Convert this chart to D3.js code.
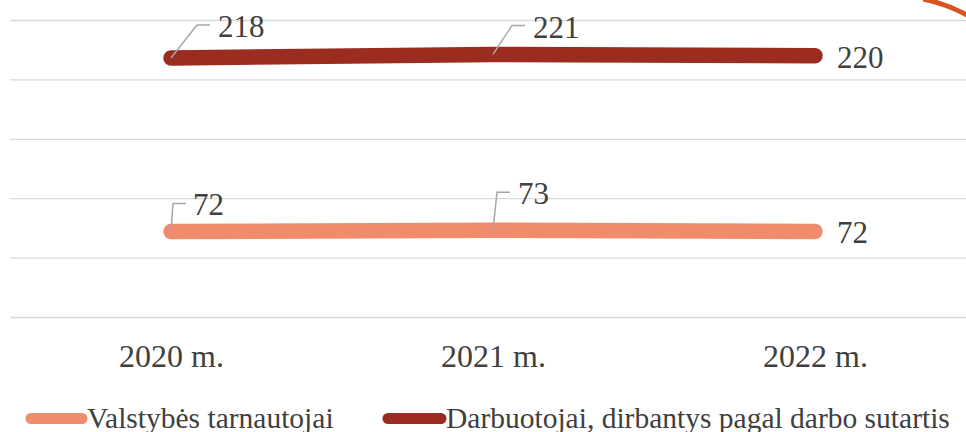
<!DOCTYPE html>
<html>
<head>
<meta charset="utf-8">
<script src="https://cdn.jsdelivr.net/npm/d3@7"></script>
<style>
  html, body { margin: 0; padding: 0; background: #fff; }
  svg { display: block; font-family: "Liberation Serif", "Times New Roman", serif; }
</style>
</head>
<body>
<div id="chart"></div>
<script>
// chart data
const years = ['2020 m.', '2021 m.', '2022 m.'];
const seriesNames = ['Valstybės tarnautojai', 'Darbuotojai, dirbantys pagal darbo sutartis'];
const civilServants = [72, 73, 72];
const employees = [218, 221, 220];
const gridValues = [0, 50, 100, 150, 200, 250];

const width = 966;
const height = 432;
const colors = ['#f08c6b', '#9b2d20'];
const textColor = '#404040';
const serif = '"Liberation Serif", "Times New Roman", serif';

const svg = d3.select('#chart')
  .append('svg')
  .attr('width', width)
  .attr('height', height);

const x = d3.scalePoint()
  .domain(years)
  .range([10, 976])
  .padding(0.5);

const y = d3.scaleLinear()
  .domain([0, 250])
  .range([317, 20]);

// gridlines
const grid = svg.append('g')
  .attr('transform', 'translate(10,0)')
  .call(d3.axisLeft(y).tickValues(gridValues).tickSize(-(width - 10)).tickFormat(''));
grid.select('.domain').remove();
grid.selectAll('.tick line').attr('stroke', '#d9d9d9').attr('stroke-width', 1.3);

// x axis labels
const xAxis = svg.append('g')
  .attr('transform', 'translate(0,367)')
  .call(d3.axisBottom(x).tickSize(0).tickPadding(0));
xAxis.attr('font-family', null);
xAxis.select('.domain').remove();
xAxis.selectAll('text')
  .attr('dy', 0)
  .attr('fill', textColor)
  .style('font-size', '32px')
  .style('font-family', serif);

// small piece of a decoration peeking in at the top right
svg.append('path')
  .attr('d', d3.arc()({innerRadius: 154.5, outerRadius: 159.5, startAngle: 0.2, endAngle: 0.6}))
  .attr('transform', 'translate(892,153)')
  .attr('fill', '#d9541e');

const series = [
  {name: seriesNames[0], values: civilServants, color: colors[0]},
  {name: seriesNames[1], values: employees, color: colors[1]}
];

const line = d3.line()
  .x((d, i) => x(years[i]))
  .y(d => y(d));

series.forEach(s => {
  svg.append('path')
    .datum(s.values)
    .attr('d', line)
    .attr('fill', 'none')
    .attr('stroke', s.color)
    .attr('stroke-width', 15.5)
    .attr('stroke-linecap', 'round')
    .attr('stroke-linejoin', 'round');
});

// data labels: leader bend offset and text position, relative to the point
const labelLayout = [
  [{bx: 2, by: -28, tx: 22, ty: -16}, {bx: 4, by: -38, tx: 25, ty: -26}, {bx: null, tx: 22, ty: 12}],
  [{bx: 26, by: -33, tx: 47, ty: -21}, {bx: 19, by: -29, tx: 40, ty: -16}, {bx: null, tx: 22, ty: 12}]
];

series.forEach((s, si) => {
  s.values.forEach((v, i) => {
    const px = x(years[i]);
    const py = y(v);
    const l = labelLayout[si][i];
    if (l.bx !== null) {
      svg.append('polyline')
        .attr('points', [[px, py], [px + l.bx, py + l.by], [px + l.bx + 13, py + l.by]].map(p => p.join(',')).join(' '))
        .attr('fill', 'none')
        .attr('stroke', '#a6a6a6')
        .attr('stroke-width', 1.5);
    }
    svg.append('text')
      .attr('x', px + l.tx)
      .attr('y', py + l.ty)
      .attr('fill', textColor)
      .style('font-family', serif)
      .style('font-size', '31px')
      .text(v);
  });
});

// legend
const legendItems = [
  {name: seriesNames[0], color: colors[0], x0: 31, x1: 82, tx: 87},
  {name: seriesNames[1], color: colors[1], x0: 388, x1: 441, tx: 446}
];
const legend = svg.append('g');
legendItems.forEach(d => {
  legend.append('line')
    .attr('x1', d.x0).attr('x2', d.x1)
    .attr('y1', 418.5).attr('y2', 418.5)
    .attr('stroke', d.color)
    .attr('stroke-width', 11)
    .attr('stroke-linecap', 'round');
  legend.append('text')
    .attr('x', d.tx)
    .attr('y', 428)
    .attr('fill', textColor)
    .style('font-family', serif)
    .style('font-size', '29.5px')
    .text(d.name);
});
</script>
</body>
</html>
